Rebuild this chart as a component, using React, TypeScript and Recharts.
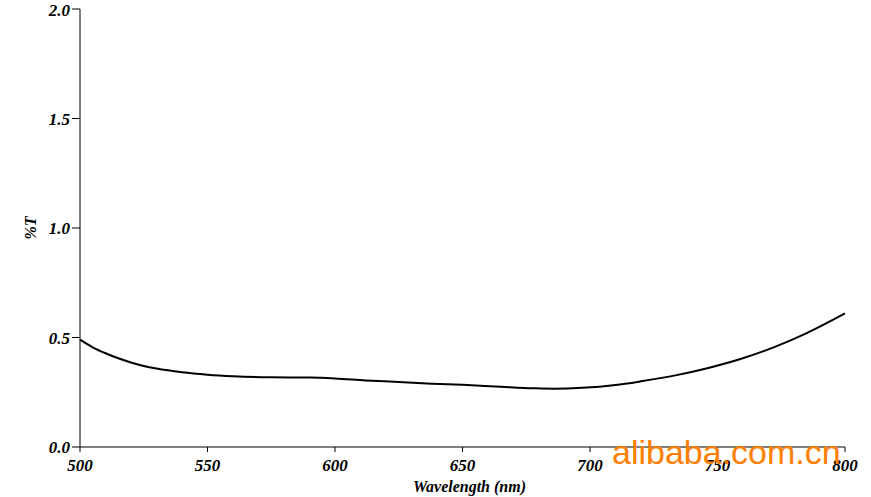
import { LineChart, Line, XAxis, YAxis, Label } from "recharts";

const wavelengths = [
  500, 505, 510, 515, 520, 525, 530, 540, 550, 560, 575, 590, 600, 612, 625, 638, 650, 665, 678, 686,
  697, 710, 720, 733, 746, 759, 772, 785, 800,
];
const transmittance = [
  0.49, 0.455, 0.428, 0.405, 0.386, 0.37, 0.358, 0.341, 0.33, 0.323, 0.318, 0.317, 0.313, 0.304, 0.297,
  0.289, 0.284, 0.275, 0.268, 0.266, 0.27, 0.283, 0.3, 0.326, 0.36, 0.402, 0.455, 0.52, 0.61,
];
const xTicks = [500, 550, 600, 650, 700, 750, 800];
const yTicks = [0, 0.5, 1, 1.5, 2];

const data = wavelengths.map((w, i) => ({ w, t: transmittance[i] }));

const font = "'Liberation Serif', 'Times New Roman', serif";
const tickStyle = { fontSize: 17, fontWeight: 700, fontStyle: "italic", fill: "#000", fontFamily: font };

export default function App() {
  return (
    <div style={{ position: "absolute", left: 0, top: 0, width: 871, height: 497, background: "#fff" }}>
      <LineChart width={871} height={497} data={data} margin={{ top: 9, right: 26, bottom: 0, left: 0 }}>
        <XAxis
          dataKey="w"
          type="number"
          domain={[500, 800]}
          ticks={xTicks}
          height={50}
          stroke="#000"
          tickSize={5}
          tickMargin={7}
          tick={tickStyle}
        >
          <Label
            value="Wavelength (nm)"
            position="insideBottom"
            offset={5}
            dx={7}
            style={{ ...tickStyle, fontSize: 16 }}
          />
        </XAxis>
        <YAxis
          type="number"
          domain={[0, 2]}
          ticks={yTicks}
          width={80}
          stroke="#000"
          tickSize={8}
          tickMargin={2}
          tickFormatter={(v: number) => v.toFixed(1)}
          tick={tickStyle}
        >
          <Label
            value="%T"
            angle={-90}
            position="insideLeft"
            offset={30}
            style={{ ...tickStyle, fontSize: 16, textAnchor: "middle" }}
          />
        </YAxis>
        <Line
          type="monotone"
          dataKey="t"
          stroke="#000"
          strokeWidth={2}
          dot={false}
          isAnimationActive={false}
        />
      </LineChart>
      <div
        style={{
          position: "absolute",
          left: 612,
          top: 430,
          fontFamily: "'Liberation Sans', Arial, sans-serif",
          fontSize: 34,
          color: "#ff7f00",
          lineHeight: "44px",
        }}
      >
        alibaba.com.cn
      </div>
    </div>
  );
}
